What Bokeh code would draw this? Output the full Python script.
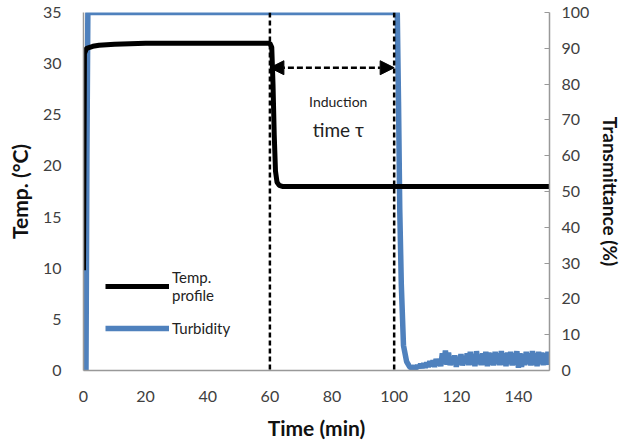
from bokeh.plotting import figure
from bokeh.models import (Range1d, LinearAxis, Legend, LegendItem, Arrow, NormalHead,
                          ColumnDataSource, FixedTicker, Span)
from bokeh.core.properties import value
from bokeh.embed import file_html
from bokeh.resources import INLINE

# ---- data ----
temp_time = [0, 0.3, 1, 3, 5, 10, 20, 30, 40, 50, 55, 60, 60.6, 61.0, 61.4, 61.8, 62.3, 63, 64, 70, 80,
             90, 100, 110, 120, 130, 140, 150]
temp_vals = [9.8, 31.0, 31.5, 31.7, 31.8, 31.9, 32.0, 32.0, 32.0, 32.0, 32.0, 32.0, 31.6, 28.0, 23.0,
             19.5, 18.4, 18.1, 18.0, 18.0, 18.0, 18.0, 18.0, 18.0, 18.0, 18.0, 18.0, 18.0]

turb_time = [0, 0.8, 1.1, 1.4, 20, 40, 60, 80, 100, 101.0, 101.4, 101.8, 102.3, 103.0, 104.0, 105.0,
             106, 106.5, 107, 107.5, 108, 108.5, 109, 109.5, 110, 110.5, 111, 111.5, 112, 112.5,
             113, 113.5, 114, 114.5, 115, 115.5, 116, 116.5, 117, 117.5, 118, 118.5, 119, 119.5,
             120, 120.5, 121, 121.5, 122, 122.5, 123, 123.5, 124, 124.5, 125, 125.5, 126, 126.5,
             127, 127.5, 128, 128.5, 129, 129.5, 130, 130.5, 131, 131.5, 132, 132.5, 133, 133.5,
             134, 134.5, 135, 135.5, 136, 136.5, 137, 137.5, 138, 138.5, 139, 139.5, 140, 140.5,
             141, 141.5, 142, 142.5, 143, 143.5, 144, 144.5, 145, 145.5, 146, 146.5, 147, 147.5,
             148, 148.5, 149, 149.5, 150]
turb_vals = [0, 0, 60, 100, 100, 100, 100, 100, 100, 100, 75, 45, 24, 7, 2.5, 1.0,
             0.6, 1.2, 0.5, 1.4, 0.8, 1.8, 0.7, 2.0, 0.8, 2.2, 1.0, 2.6, 1.2, 2.8,
             1.0, 3.2, 1.5, 3.0, 1.2, 4.8, 1.8, 5.6, 1.6, 5.0, 1.5, 3.8, 1.8, 4.2,
             1.0, 3.8, 1.6, 4.6, 1.4, 4.0, 1.8, 4.8, 1.5, 5.2, 1.6, 4.6, 1.2, 5.4,
             1.8, 4.4, 1.5, 4.8, 1.6, 5.2, 1.2, 5.0, 1.6, 4.8, 1.4, 5.2, 1.8, 4.8,
             1.5, 5.4, 1.6, 4.8, 1.2, 5.0, 1.8, 5.2, 1.4, 4.8, 1.6, 5.4, 0.8, 4.8,
             1.0, 4.6, 1.5, 5.2, 1.8, 4.8, 1.4, 5.4, 1.6, 4.8, 1.2, 5.2, 1.8, 5.0,
             1.5, 4.8, 1.6, 5.2, 3.0]

induction_start = 60
induction_end = 100
arrow_temp = 29.6
note_x = [82, 82]
note_y = [26.3, 23.6]
note_text = ["Induction", "time τ"]
note_size = ["14px", "19px"]

x_ticks = [0, 20, 40, 60, 80, 100, 120, 140]
y_ticks = [0, 5, 10, 15, 20, 25, 30, 35]
y2_ticks = [0, 10, 20, 30, 40, 50, 60, 70, 80, 90, 100]

FONT = "Lato"
BLUE = "#4F81BD"
TICK_COLOR = "#404040"

p = figure(frame_width=466, frame_height=358, output_backend="svg", toolbar_location=None,
           x_range=Range1d(0, 150), y_range=Range1d(0, 35),
           min_border_left=83, min_border_right=74, min_border_top=12, min_border_bottom=75)
p.extra_y_ranges = {"trans": Range1d(0, 100)}
p.outline_line_color = None
p.grid.visible = False
p.background_fill_color = "white"
p.border_fill_color = "white"

# dashed markers
for xv in [induction_start, induction_end]:
    p.add_layout(Span(location=xv, dimension="height", line_color="black", line_width=2.5,
                      line_dash="5 3"))

r_turb = p.line(turb_time, turb_vals, line_color=BLUE, line_width=5.5, y_range_name="trans")
r_temp = p.line(temp_time, temp_vals, line_color="black", line_width=5)

# arrow
p.add_layout(Arrow(x_start=induction_start, x_end=induction_end, y_start=arrow_temp, y_end=arrow_temp,
                   line_dash="6 3", line_width=2.5, line_color="black",
                   start=NormalHead(size=14, fill_color="black", line_color="black"),
                   end=NormalHead(size=14, fill_color="black", line_color="black")))

src = ColumnDataSource(dict(x=note_x, y=note_y, t=note_text, s=note_size))
p.text("x", "y", text="t", source=src, text_font=value(FONT), text_font_size="s",
       text_align="center", text_baseline="middle", text_color="#222222")

# axes
def style(ax, label, size="21px"):
    ax.axis_label = label
    ax.axis_label_text_font = FONT
    ax.axis_label_text_font_style = "bold"
    ax.axis_label_text_font_size = size
    ax.axis_label_text_color = "#111111"
    ax.major_label_text_font = FONT
    ax.major_label_text_font_size = "16px"
    ax.major_label_text_color = TICK_COLOR
    ax.minor_tick_line_color = None
    ax.axis_line_color = "#999999"
    ax.axis_line_width = 1.5

xa = p.xaxis[0]
style(xa, "Time (min)")
xa.ticker = FixedTicker(ticks=x_ticks)
xa.major_tick_line_color = None
xa.major_label_standoff = 14
xa.axis_label_standoff = 10

ya = p.yaxis[0]
style(ya, "Temp. (°C)")
ya.ticker = FixedTicker(ticks=y_ticks)
ya.major_tick_line_color = None
ya.major_label_standoff = 16
ya.axis_label_standoff = 8

y2 = LinearAxis(y_range_name="trans")
style(y2, "Transmittance (%)", "19px")
y2.ticker = FixedTicker(ticks=y2_ticks)
y2.major_tick_in = 5
y2.major_tick_out = 0
y2.major_tick_line_color = "#999999"
y2.major_label_standoff = 12
y2.axis_label_standoff = 7
p.add_layout(y2, "right")

legend = Legend(items=[LegendItem(label="Temp.\nprofile", renderers=[r_temp]),
                       LegendItem(label="Turbidity", renderers=[r_turb])],
                location=(22, 32), border_line_color=None, background_fill_alpha=0,
                label_text_font=FONT, label_text_font_size="15px", label_text_color="#222222",
                glyph_width=64, glyph_height=20, label_standoff=3, spacing=14, padding=6,
                label_text_line_height=1.45)
p.add_layout(legend)

open("out.html", "w").write(file_html(p, INLINE))
